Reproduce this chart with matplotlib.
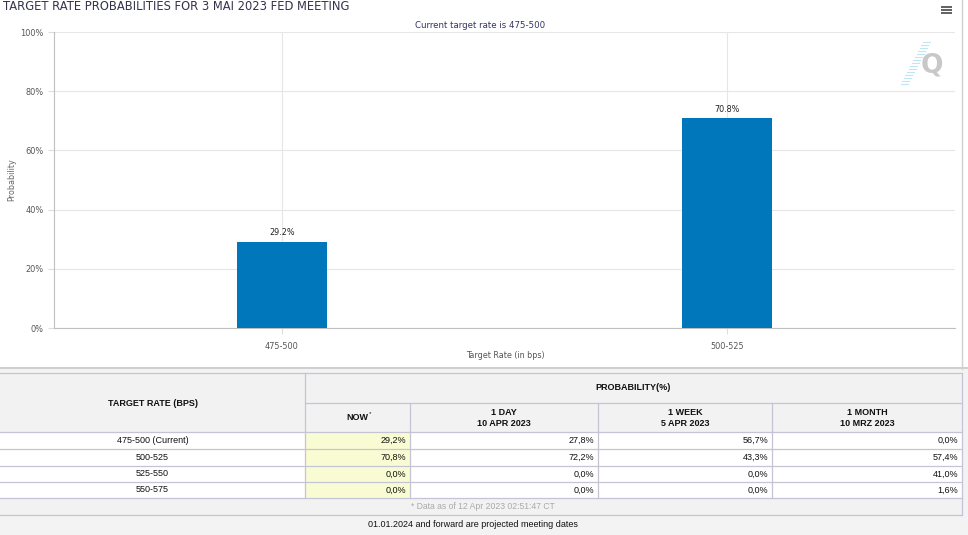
"""
Fed target rate probabilities: bar chart plus probability table.
"""
import matplotlib
matplotlib.use("Agg")
import matplotlib.pyplot as plt
from matplotlib.patches import Rectangle

W, H = 968, 535

# data
categories = ["475-500", "500-525"]
now_values = [29.2, 70.8]

row_labels = ["475-500 (Current)", "500-525", "525-550", "550-575"]
col_now = ["29,2%", "70,8%", "0,0%", "0,0%"]
col_day = ["27,8%", "72,2%", "0,0%", "0,0%"]
col_week = ["56,7%", "43,3%", "0,0%", "0,0%"]
col_month = ["0,0%", "57,4%", "41,0%", "1,6%"]
col_headers = ["NOW", "1 DAY\n10 APR 2023", "1 WEEK\n5 APR 2023", "1 MONTH\n10 MRZ 2023"]

TITLE = "TARGET RATE PROBABILITIES FOR 3 MAI 2023 FED MEETING"
SUBTITLE = "Current target rate is 475-500"

BAR_COLOR = "#0077bb"
LINE = "#c4c4d4"
HEAD_BG = "#f2f2f2"
NOW_BG = "#f9fbd2"

fig = plt.figure(figsize=(W / 100, H / 100), dpi=100)
fig.patch.set_facecolor("white")

# pixel-space background axes for the page furniture and the table
bg = fig.add_axes([0, 0, 1, 1])
bg.set_xlim(0, W)
bg.set_ylim(H, 0)
bg.axis("off")

bg.text(3, 7, TITLE, fontsize=8.3, color="#33334d", va="center", ha="left")
bg.text(480, 25, SUBTITLE, fontsize=6.2, color="#333366", va="center", ha="center")
bg.text(12, 180, "Probability", fontsize=5.8, color="#666666", rotation=90,
        va="center", ha="center")
bg.text(505, 355, "Target Rate (in bps)", fontsize=5.8, color="#555555",
        va="center", ha="center")

# hamburger menu
for y in (7, 10, 13):
    bg.plot([941, 952], [y, y], color="#555555", lw=1.3, solid_capstyle="butt")
# faint logo
bg.text(932, 66, "Q", fontsize=19, fontweight="bold", color="#c8c8c8",
        va="center", ha="center")
for i, y in enumerate(range(42, 86, 3)):
    x0 = 930 - i * 1.6
    bg.plot([x0 - 7, x0], [y, y], color="#bfe6f3", lw=0.8)

# separator between chart and table
bg.add_patch(Rectangle((0, 369), W, H - 369, facecolor="#f3f3f3", edgecolor="none"))
bg.add_patch(Rectangle((0, 366.5), W, 2.5, facecolor="#cfcfcf", edgecolor="none"))
bg.plot([961.5, 961.5], [0, 369], color="#d0d0d0", lw=1)

# table geometry (pixels)
col_x = [0, 305, 410, 598, 772, 962]
head_top, head_mid, head_bot = 373, 403, 432
row_y = [432, 449, 466, 482, 498]
foot_bot = 515

bg.add_patch(Rectangle((0, head_top), col_x[-1], head_bot - head_top,
                       facecolor=HEAD_BG, edgecolor="none"))
for r in range(len(row_labels)):
    y0, y1 = row_y[r], row_y[r + 1]
    bg.add_patch(Rectangle((0, y0), col_x[-1], y1 - y0, facecolor="white",
                           edgecolor="none"))
    bg.add_patch(Rectangle((col_x[1], y0), col_x[2] - col_x[1], y1 - y0,
                           facecolor=NOW_BG, edgecolor="none"))
bg.add_patch(Rectangle((0, row_y[-1]), col_x[-1], foot_bot - row_y[-1],
                       facecolor=HEAD_BG, edgecolor="none"))

# grid lines of the table
lw = 0.9
for y in [head_top] + row_y + [foot_bot]:
    bg.plot([0, col_x[-1]], [y, y], color=LINE, lw=lw)
bg.plot([col_x[1], col_x[-1]], [head_mid, head_mid], color=LINE, lw=lw)
bg.plot([col_x[1], col_x[1]], [head_top, row_y[-1]], color=LINE, lw=lw)
for x in col_x[2:-1]:
    bg.plot([x, x], [head_mid, row_y[-1]], color=LINE, lw=lw)
bg.plot([col_x[-1], col_x[-1]], [head_top, foot_bot], color=LINE, lw=lw)

tfont = dict(family="Liberation Sans", fontsize=6.5, color="#111111")
bg.text(col_x[1] / 2, 403, "TARGET RATE (BPS)", fontweight="bold",
        ha="center", va="center", **tfont)
bg.text((col_x[1] + col_x[-1]) / 2, 388, "PROBABILITY(%)", fontweight="bold",
        ha="center", va="center", **tfont)
for j, head in enumerate(col_headers):
    cx = (col_x[j + 1] + col_x[j + 2]) / 2
    bg.text(cx, 418, head, fontweight="bold", ha="center", va="center",
            linespacing=1.15, **tfont)
bg.text(369, 414, "*", fontsize=4.5, color="#111111", ha="left", va="center",
        family="Liberation Sans")

columns = [col_now, col_day, col_week, col_month]
for r, label in enumerate(row_labels):
    cy = (row_y[r] + row_y[r + 1]) / 2
    bg.text(col_x[1] / 2, cy, label, ha="center", va="center", **tfont)
    for j, col in enumerate(columns):
        bg.text(col_x[j + 2] - 4, cy, col[r], ha="right", va="center", **tfont)

bg.text(483, 506.5, "* Data as of 12 Apr 2023 02:51:47 CT", ha="center",
        va="center", family="Liberation Sans", fontsize=6.2, color="#aaaaaa")
bg.text(473, 524.5, "01.01.2024 and forward are projected meeting dates",
        ha="center", va="center", family="Liberation Sans", fontsize=6.5,
        color="#111111")

# bar chart
left, right, top, bottom = 54, 955, 32, 328
ax = fig.add_axes([left / W, 1 - bottom / H, (right - left) / W, (bottom - top) / H])
ax.set_facecolor("none")
x = range(len(categories))
bars = ax.bar(x, now_values, width=0.202, color=BAR_COLOR, zorder=3)
for b, v in zip(bars, now_values):
    ax.text(b.get_x() + b.get_width() / 2, v + 1.5, f"{v:.1f}%", ha="center",
            va="bottom", fontsize=5.8, color="#222222", zorder=4)

ax.set_xlim(-0.512, 1.512)
ax.set_ylim(0, 100)
ax.set_xticks(list(x))
ax.set_xticklabels(categories)
ax.set_yticks(range(0, 101, 20))
ax.set_yticklabels([f"{t}%" for t in range(0, 101, 20)])
ax.tick_params(axis="both", labelsize=5.9, labelcolor="#555555", color="#dddddd",
               length=4, width=0.8)
ax.tick_params(axis="x", pad=6)
ax.grid(True, color="#e6e6e6", lw=0.8, zorder=0)
for side in ("top", "right"):
    ax.spines[side].set_visible(False)
ax.spines["left"].set_color("#c0c0c0")
ax.spines["bottom"].set_color("#c0c0c0")
ax.spines["left"].set_linewidth(0.8)
ax.spines["bottom"].set_linewidth(0.8)

fig.savefig("out.png", dpi=100)
